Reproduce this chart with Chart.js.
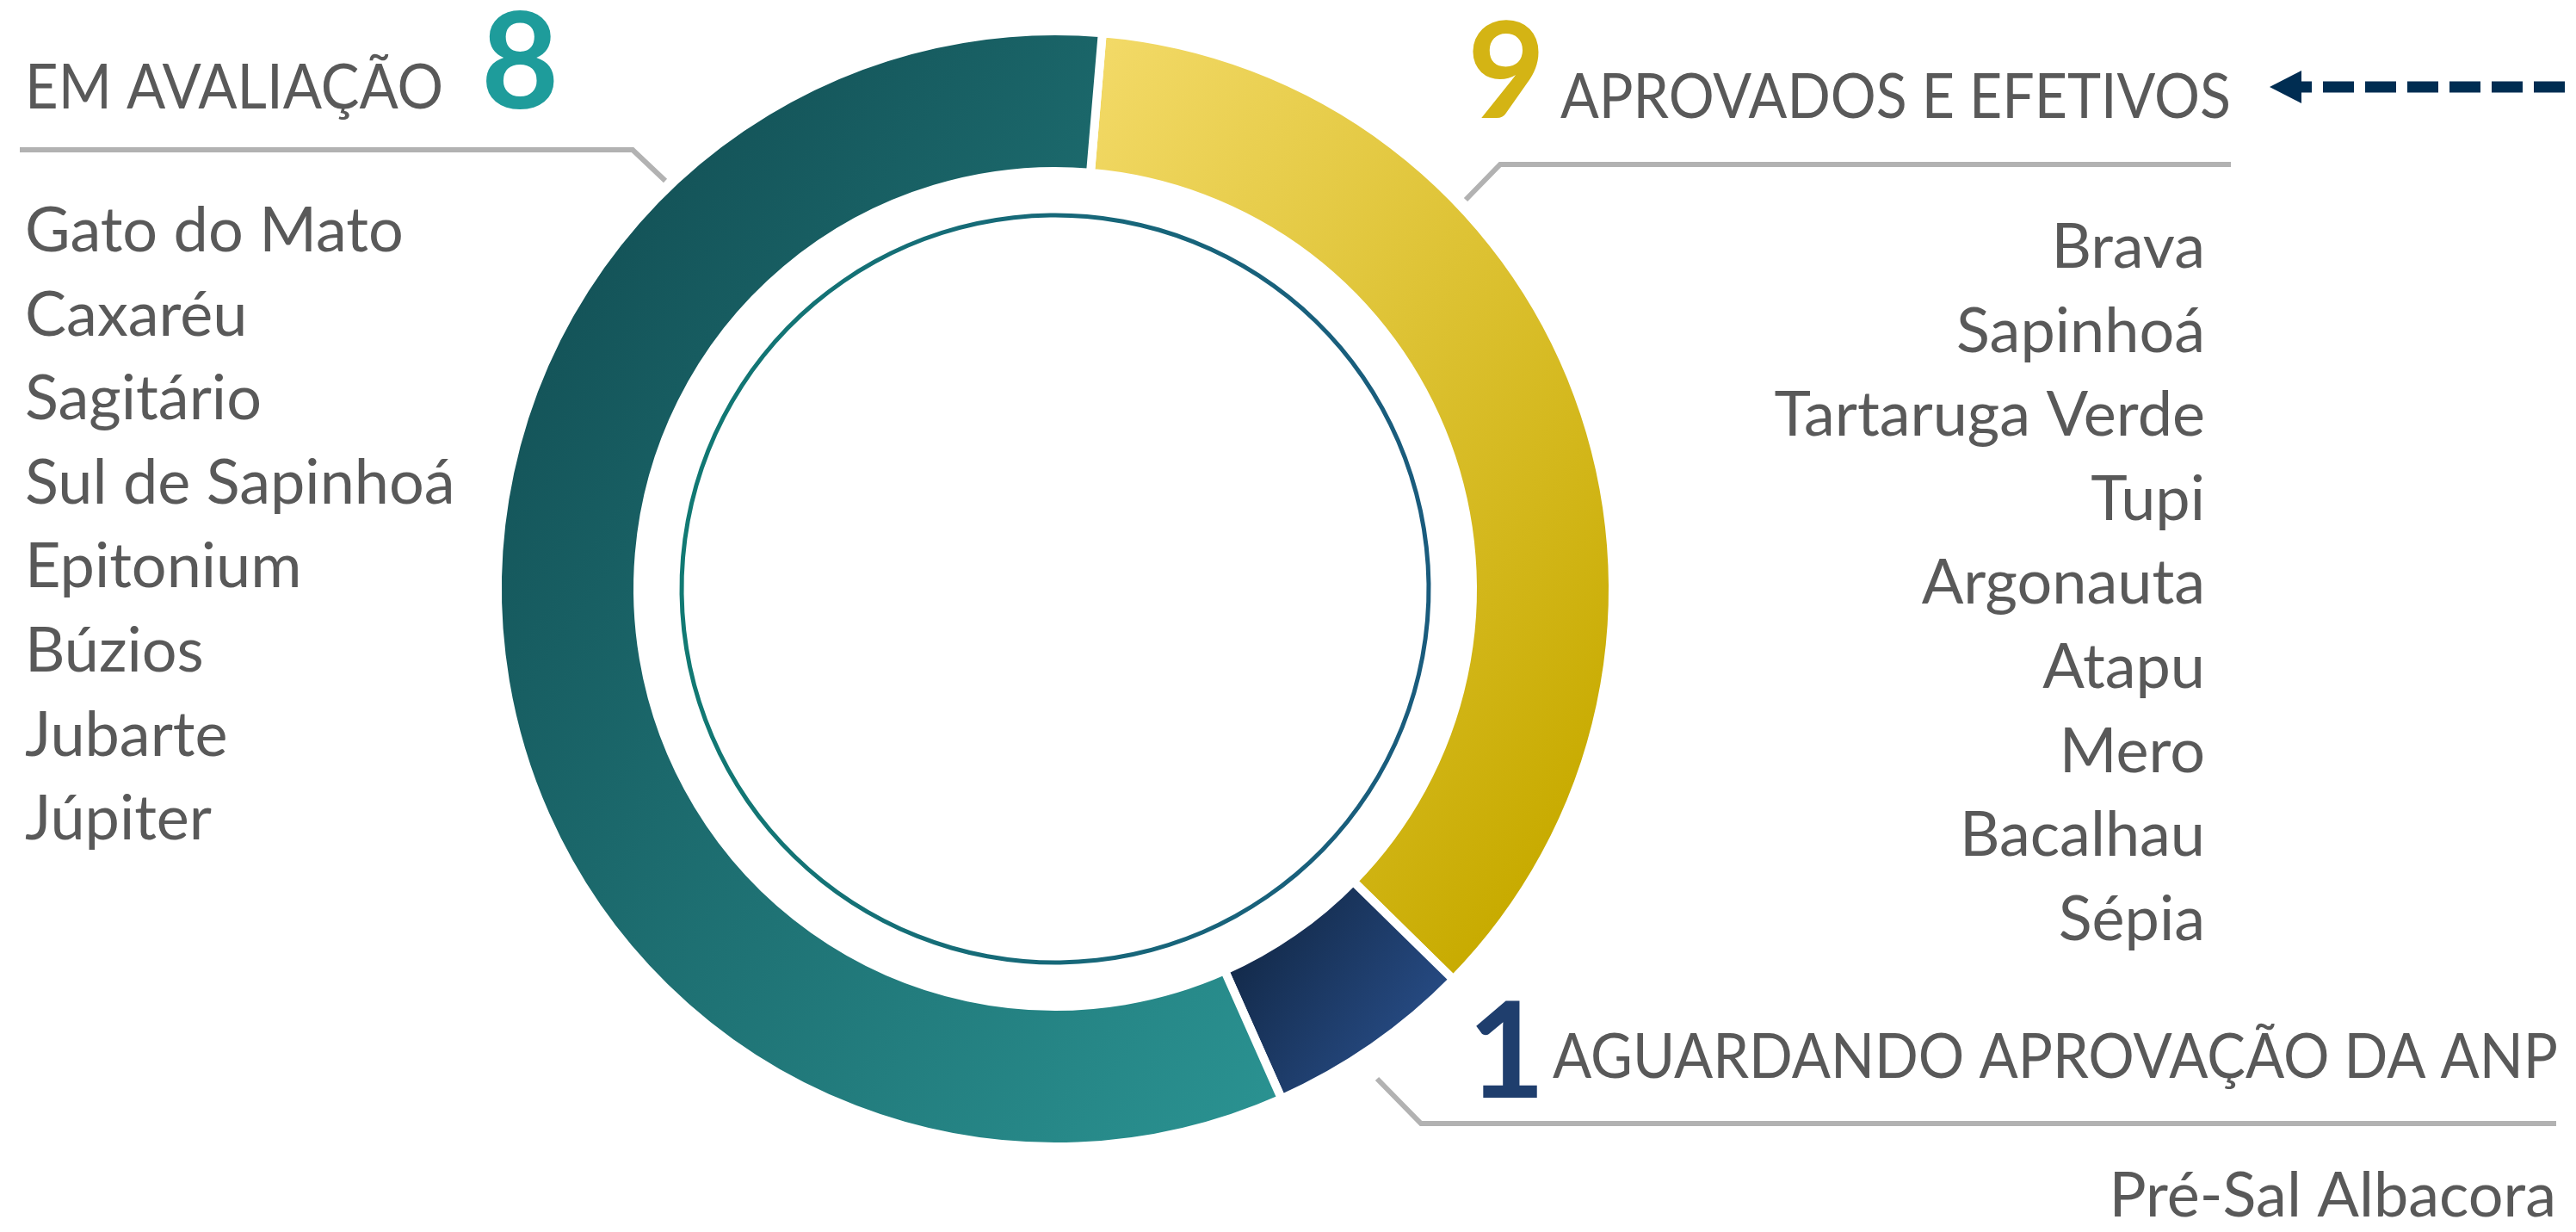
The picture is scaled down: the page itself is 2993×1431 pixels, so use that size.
<!DOCTYPE html>
<html>
<head>
<meta charset="utf-8">
<script src="https://cdn.jsdelivr.net/npm/chart.js@4.4.0/dist/chart.umd.min.js"></script>
<style>
  html, body { margin: 0; padding: 0; background: #fff; }
</style>
</head>
<body>
<canvas id="ringChart" width="2993" height="1431"></canvas>
<script>
// status groups, in ring order (clockwise from the top)
const categories = ['APROVADOS E EFETIVOS', 'AGUARDANDO APROVAÇÃO DA ANP', 'EM AVALIAÇÃO'];
const counts = [9, 1, 8];
// share of the ring each group takes in the drawing (%)
const ringShare = [36, 6, 58];
const fieldsApproved = ['Brava', 'Sapinhoá', 'Tartaruga Verde', 'Tupi', 'Argonauta', 'Atapu', 'Mero', 'Bacalhau', 'Sépia'];
const fieldsAwaiting = ['Pré-Sal Albacora'];
const fieldsEvaluation = ['Gato do Mato', 'Caxaréu', 'Sagitário', 'Sul de Sapinhoá', 'Epitonium', 'Búzios', 'Jubarte', 'Júpiter'];
const innerCircle = [1];

const ROTATION = 4.85;
const OUTER_R = 648;
const TEXT_COLOR = '#595959';
const LEADER_COLOR = '#b2b2b2';
const segColors = [
  ['#f3da68', '#c8ab00'],
  ['#132a4a', '#264a82'],
  ['#145459', '#2a9291']
];
const numColors = ['#d4b414', '#1f3e6d', '#1e9c9b'];
const GRAD_ANGLE = 35 * Math.PI / 180;

function segGradient(c) {
  const chart = c.chart, ca = chart.chartArea, i = c.dataIndex;
  if (!ca) return segColors[i][1];
  const cx = (ca.left + ca.right) / 2, cy = (ca.top + ca.bottom) / 2;
  const total = ringShare.reduce((a, b) => a + b, 0);
  const before = ringShare.slice(0, i).reduce((a, b) => a + b, 0);
  const a0 = (ROTATION - 90) * Math.PI / 180 + before / total * 2 * Math.PI;
  const a1 = a0 + ringShare[i] / total * 2 * Math.PI;
  const dx = Math.cos(GRAD_ANGLE), dy = Math.sin(GRAD_ANGLE);
  let pMin = Infinity, pMax = -Infinity;
  [OUTER_R, OUTER_R * 0.75].forEach(r => {
    for (let k = 0; k <= 60; k++) {
      const a = a0 + (a1 - a0) * k / 60;
      const p = r * Math.cos(a) * dx + r * Math.sin(a) * dy;
      pMin = Math.min(pMin, p); pMax = Math.max(pMax, p);
    }
  });
  const g = chart.ctx.createLinearGradient(cx + pMin * dx, cy + pMin * dy, cx + pMax * dx, cy + pMax * dy);
  g.addColorStop(0, segColors[i][0]);
  g.addColorStop(1, segColors[i][1]);
  return g;
}

function circleGradient(c) {
  const ca = c.chart.chartArea;
  if (!ca) return '#17607a';
  const g = c.chart.ctx.createLinearGradient(ca.left, 0, ca.right, 0);
  g.addColorStop(0, '#0e8270');
  g.addColorStop(0.45, '#166a78');
  g.addColorStop(1, '#1b557f');
  return g;
}

// text blocks around the ring
const blocks = [
  { idx: 2, items: fieldsEvaluation, numX: 559, numY: 126, headX: 29, headY: 126, headW: 486,
    leader: [[23, 174], [735, 174], [773, 210]], listX: 29, listY: 292, align: 'left' },
  { idx: 0, items: fieldsApproved, numX: 1705, numY: 137, headX: 1813, headY: 137, headW: 779,
    leader: [[1703, 232], [1743, 191], [2592, 191]], listX: 2562, listY: 311, align: 'right' },
  { idx: 1, items: fieldsAwaiting, numX: 1705, numY: 1275, headX: 1804, headY: 1252, headW: 1168,
    leader: [[1600, 1253], [1651, 1305], [2970, 1305]], listX: 2970, listY: 1413, align: 'right' }
];

const labelPlugin = {
  id: 'sideLabels',
  afterDraw(chart) {
    const ctx = chart.ctx;
    ctx.save();
    blocks.forEach(b => {
      // leader line
      ctx.strokeStyle = LEADER_COLOR;
      ctx.lineWidth = 6;
      ctx.lineJoin = 'miter';
      ctx.beginPath();
      b.leader.forEach((p, k) => k ? ctx.lineTo(p[0], p[1]) : ctx.moveTo(p[0], p[1]));
      ctx.stroke();

      // big count
      ctx.fillStyle = numColors[b.idx];
      ctx.font = 'bold 156px Lato';
      ctx.textAlign = 'left';
      ctx.textBaseline = 'alphabetic';
      ctx.fillText(String(counts[b.idx]), b.numX, b.numY);

      // condensed heading
      ctx.fillStyle = TEXT_COLOR;
      ctx.font = '72px Lato';
      const w = ctx.measureText(categories[b.idx]).width;
      ctx.save();
      ctx.translate(b.headX, b.headY);
      ctx.scale(b.headW / w, 1);
      ctx.fillText(categories[b.idx], 0, 0);
      ctx.restore();

      // field names
      ctx.font = '72px Lato';
      ctx.textAlign = b.align;
      b.items.forEach((name, k) => ctx.fillText(name, b.listX, b.listY + k * 97.6));
    });

    // dashed arrow pointing at the approved heading
    ctx.fillStyle = '#002d52';
    ctx.strokeStyle = '#002d52';
    ctx.beginPath();
    ctx.moveTo(2637, 101);
    ctx.lineTo(2674, 82);
    ctx.lineTo(2674, 120);
    ctx.closePath();
    ctx.fill();
    ctx.lineWidth = 13;
    ctx.setLineDash([36, 13]);
    ctx.lineDashOffset = 23;
    ctx.beginPath();
    ctx.moveTo(2673, 101);
    ctx.lineTo(2993, 101);
    ctx.stroke();
    ctx.restore();
  }
};

new Chart(document.getElementById('ringChart'), {
  type: 'doughnut',
  data: {
    labels: categories,
    datasets: [{
      data: ringShare,
      backgroundColor: segGradient,
      borderColor: '#ffffff',
      borderWidth: 10,
      weight: 163
    }, {
      data: innerCircle,
      backgroundColor: 'rgba(0,0,0,0)',
      borderWidth: 0,
      weight: 48.5
    }, {
      data: innerCircle,
      backgroundColor: circleGradient,
      borderWidth: 0,
      weight: 5
    }]
  },
  options: {
    responsive: false,
    animation: false,
    events: [],
    rotation: ROTATION,
    radius: OUTER_R,
    cutout: (431.5 / 648 * 100) + '%',
    layout: {
      padding: { left: 578, right: 1119, top: 36, bottom: 99 }
    },
    plugins: {
      legend: { display: false },
      tooltip: { enabled: false }
    }
  },
  plugins: [labelPlugin]
});
</script>
</body>
</html>
